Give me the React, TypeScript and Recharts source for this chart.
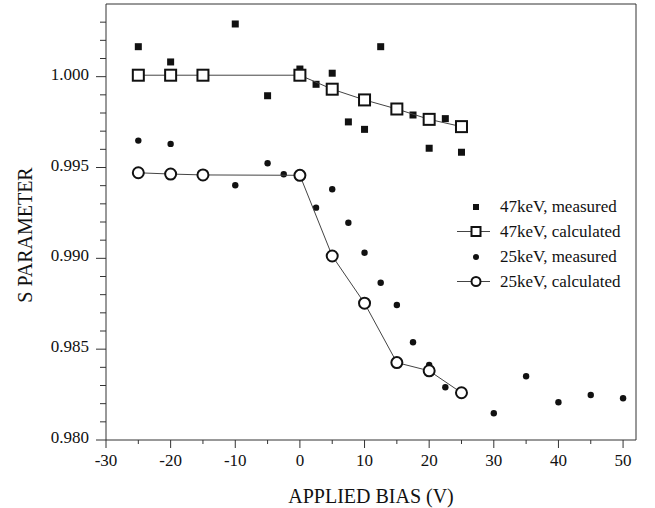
import React from "react";
import {
  ScatterChart,
  Scatter,
  XAxis,
  YAxis,
  ReferenceLine,
  Legend,
  Label,
} from "recharts";

const FONT = "Liberation Serif, Tinos, Times New Roman, DejaVu Serif, serif";
const INK = "#111";

// bias (V) ticks: majors every 10 V, minors in between
const xTicks = [-30, -25, -20, -15, -10, -5, 0, 5, 10, 15, 20, 25, 30, 35, 40, 45, 50];
const yTicks = [
  0.98, 0.981, 0.982, 0.983, 0.984, 0.985, 0.986, 0.987, 0.988, 0.989, 0.99,
  0.991, 0.992, 0.993, 0.994, 0.995, 0.996, 0.997, 0.998, 0.999, 1.0, 1.001,
  1.002, 1.003,
];

// 47 keV, measured
const bias47m = [-25, -20, -10, -5, 0, 2.5, 5, 7.5, 10, 12.5, 17.5, 20, 22.5, 25];
const s47m = [
  1.00165, 1.00081, 1.0029, 0.99895, 1.00042, 0.99958, 1.00019, 0.99751,
  0.9971, 1.00165, 0.99789, 0.99606, 0.99769, 0.99584,
];

// 47 keV, calculated
const bias47c = [-25, -20, -15, 0, 5, 10, 15, 20, 25];
const s47c = [1.00008, 1.00008, 1.00008, 1.00008, 0.99931, 0.99872, 0.99822, 0.99765, 0.99725];

// 25 keV, measured
const bias25m = [-25, -20, -10, -5, -2.5, 2.5, 5, 7.5, 10, 12.5, 15, 17.5, 20, 22.5, 30, 35, 40, 45, 50];
const s25m = [
  0.99648, 0.9963, 0.99402, 0.99523, 0.99463, 0.99279, 0.9938, 0.99196,
  0.99031, 0.98866, 0.98743, 0.98538, 0.98413, 0.9829, 0.98147, 0.98351,
  0.98208, 0.98248, 0.9823,
];

// 25 keV, calculated
const bias25c = [-25, -20, -15, 0, 5, 10, 15, 20, 25];
const s25c = [0.99471, 0.99464, 0.99459, 0.99457, 0.99013, 0.98753, 0.98426, 0.98381, 0.9826];

const zip = (xs: number[], ys: number[]) => xs.map((x, i) => ({ x, y: ys[i] }));

const FilledSquare = (p: any) => (
  <rect x={p.cx - 3.5} y={p.cy - 3.5} width={7} height={7} fill={INK} />
);
const FilledDot = (p: any) => <circle cx={p.cx} cy={p.cy} r={3.2} fill={INK} />;
const OpenSquare = (p: any) => (
  <rect x={p.cx - 5.5} y={p.cy - 5.5} width={11} height={11} fill="#fff" stroke={INK} strokeWidth={2} />
);
const OpenCircle = (p: any) => (
  <circle cx={p.cx} cy={p.cy} r={5.5} fill="#fff" stroke={INK} strokeWidth={2} />
);

// x: marks and labels drawn together; majors longer than minors
const renderXTick = (p: any) => {
  const v = p.payload.value;
  const major = v % 10 === 0;
  return (
    <g key={`xt-${v}`}>
      <line x1={p.x} x2={p.x} y1={440} y2={major ? 448 : 444} stroke="#333" strokeWidth={1} />
      {major && (
        <text x={p.x} y={466} textAnchor="middle" fontSize={17} fontFamily={FONT} fill={INK}>
          {v}
        </text>
      )}
    </g>
  );
};

// y: majors and minors differ in length, so the marks are drawn here
const renderYTick = (p: any) => {
  const v = p.payload.value;
  const major = Math.round(v * 1000) % 5 === 0;
  const x0 = 106;
  return (
    <g key={`yt-${v}`}>
      <path d={`M${x0 - (major ? 10 : 6)},${p.y}H${x0}`} stroke="#333" strokeWidth={1} fill="none" />
      {major && (
        <text x={x0 - 17} y={p.y + 3} textAnchor="end" fontSize={17} fontFamily={FONT} fill={INK}>
          {v.toFixed(3)}
        </text>
      )}
    </g>
  );
};

const legendRows = [
  { label: "47keV, measured", marker: "fsq" },
  { label: "47keV, calculated", marker: "osq" },
  { label: "25keV, measured", marker: "fdot" },
  { label: "25keV, calculated", marker: "ocirc" },
];

const LegendMarker = ({ kind }: { kind: string }) => (
  <svg width={48} height={25}>
    {(kind === "osq" || kind === "ocirc") && (
      <line x1={5} x2={38} y1={12.5} y2={12.5} stroke="#444" strokeWidth={1} />
    )}
    {kind === "fsq" && <rect x={21} y={10} width={6} height={6} fill={INK} />}
    {kind === "fdot" && <circle cx={24} cy={13} r={3} fill={INK} />}
    {kind === "osq" && (
      <rect x={19.5} y={8} width={9} height={9} fill="#fff" stroke={INK} strokeWidth={2} />
    )}
    {kind === "ocirc" && <circle cx={24} cy={12.5} r={4.5} fill="#fff" stroke={INK} strokeWidth={2} />}
  </svg>
);

const LegendBox = () => (
  <div style={{ fontFamily: FONT, fontSize: 17, color: INK }}>
    {legendRows.map((r) => (
      <div key={r.label} style={{ display: "flex", alignItems: "center", height: 25 }}>
        <LegendMarker kind={r.marker} />
        <span style={{ lineHeight: "25px", whiteSpace: "nowrap" }}>{r.label}</span>
      </div>
    ))}
  </div>
);

export default function App() {
  return (
    <div style={{ position: "absolute", left: 0, top: 0, background: "#fff", fontFamily: FONT }}>
      <ScatterChart
        width={655}
        height={508}
        margin={{ top: 4, right: 19, left: 26, bottom: 28 }}
      >
        <XAxis
          type="number"
          dataKey="x"
          domain={[-30, 52]}
          ticks={xTicks}
          interval={0}
          tickSize={0}
          tickMargin={0}
          tickLine={false}
          tick={renderXTick}
          height={40}
          stroke="#333"
          allowDataOverflow
        >
          <Label
            content={() => (
              <text x={371} y={503} textAnchor="middle" fontSize={20} fontFamily={FONT} fill={INK}>
                APPLIED BIAS (V)
              </text>
            )}
          />
        </XAxis>
        <YAxis
          type="number"
          dataKey="y"
          domain={[0.98, 1.004]}
          ticks={yTicks}
          interval={0}
          tickSize={0}
          tickMargin={0}
          tickLine={false}
          tick={renderYTick}
          width={80}
          stroke="#333"
          allowDataOverflow
        >
          <Label
            content={() => (
              <text
                x={32}
                y={235}
                transform="rotate(-90 32 235)"
                textAnchor="middle"
                fontSize={20}
                fontFamily={FONT}
                fill={INK}
              >
                S PARAMETER
              </text>
            )}
          />
        </YAxis>
        <ReferenceLine y={1.004} stroke="#333" />
        <ReferenceLine x={52} stroke="#333" />
        <Legend
          layout="vertical"
          align="center"
          verticalAlign="middle"
          content={<LegendBox />}
          wrapperStyle={{ left: 452, top: 194, width: 190, height: 100 }}
        />
        <Scatter name="47keV, measured" data={zip(bias47m, s47m)} shape={FilledSquare} isAnimationActive={false} />
        <Scatter name="25keV, measured" data={zip(bias25m, s25m)} shape={FilledDot} isAnimationActive={false} />
        <Scatter
          name="47keV, calculated"
          data={zip(bias47c, s47c)}
          shape={OpenSquare}
          line={{ stroke: "#444", strokeWidth: 1 }}
          isAnimationActive={false}
        />
        <Scatter
          name="25keV, calculated"
          data={zip(bias25c, s25c)}
          shape={OpenCircle}
          line={{ stroke: "#444", strokeWidth: 1 }}
          isAnimationActive={false}
        />
      </ScatterChart>
    </div>
  );
}
